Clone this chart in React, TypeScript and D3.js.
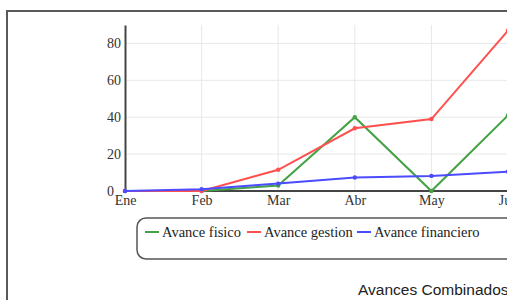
import * as d3 from "d3";
import React, { useEffect, useRef } from "react";

const months = ["Ene", "Feb", "Mar", "Abr", "May", "Jun"];
const fisico = [0, 0, 3, 40, 0, 41];
const gestion = [0, 0, 11.5, 34, 39, 87];
const financiero = [0, 1, 4, 7.3, 8.2, 10.5];
const yTicks = [0, 20, 40, 60, 80];

const seriesNames = ["Avance fisico", "Avance gestion", "Avance financiero"];
const seriesColors = ["#44a244", "#ff5050", "#4b4bff"];

const App = () => {
  const ref = useRef<SVGSVGElement | null>(null);

  useEffect(() => {
    const svg = d3.select(ref.current);
    svg.selectAll("*").remove();

    const width = 507;
    const height = 300;
    const margin = { top: 25, left: 125, bottom: 109 };

    svg.attr("width", width).attr("height", height);

    // outer frame
    svg
      .append("rect")
      .attr("x", 7)
      .attr("y", 11)
      .attr("width", 700)
      .attr("height", 400)
      .attr("fill", "#fff")
      .attr("stroke", "#595959")
      .attr("stroke-width", 2);

    const x = d3.scalePoint<string>().domain(months).range([margin.left, 508]);
    const y = d3
      .scaleLinear()
      .domain([0, 90])
      .range([height - margin.bottom, margin.top]);

    const g = svg.append("g");

    // grid
    g.append("g")
      .selectAll("line")
      .data(yTicks.slice(1))
      .enter()
      .append("line")
      .attr("x1", margin.left)
      .attr("x2", width + 10)
      .attr("y1", (d) => y(d))
      .attr("y2", (d) => y(d))
      .attr("stroke", "#e8e8e8");

    g.append("g")
      .selectAll("line")
      .data(months.slice(1))
      .enter()
      .append("line")
      .attr("x1", (d) => x(d)!)
      .attr("x2", (d) => x(d)!)
      .attr("y1", y(90))
      .attr("y2", y(0))
      .attr("stroke", "#e8e8e8");

    // axes
    const yAxis = g
      .append("g")
      .attr("transform", `translate(${margin.left},0)`)
      .call(d3.axisLeft(y).tickValues(yTicks).tickSize(0));
    yAxis.select(".domain").attr("stroke", "#444").attr("stroke-width", 2);
    yAxis
      .selectAll("text")
      .attr("text-anchor", "start")
      .attr("x", -18)
      .attr("font-family", "'Liberation Serif', serif")
      .attr("font-size", 14)
      .attr("fill", "#333");

    const xAxis = g
      .append("g")
      .attr("transform", `translate(0,${y(0)})`)
      .call(d3.axisBottom(x).tickSize(0).tickPadding(4));
    xAxis
      .select(".domain")
      .attr("d", `M${margin.left},0H${width + 10}`)
      .attr("stroke", "#444")
      .attr("stroke-width", 2);
    xAxis
      .selectAll("text")
      .attr("font-family", "'Liberation Serif', serif")
      .attr("font-size", 14)
      .attr("fill", "#333");

    // lines
    const allSeries = [fisico, gestion, financiero];
    const line = d3
      .line<number>()
      .x((_, i) => x(months[i])!)
      .y((d) => y(d));

    allSeries.forEach((vals, k) => {
      g.append("path")
        .datum(vals)
        .attr("d", line)
        .attr("fill", "none")
        .attr("stroke", seriesColors[k])
        .attr("stroke-width", 2);
      g.append("g")
        .selectAll("circle")
        .data(vals)
        .enter()
        .append("circle")
        .attr("cx", (_, i) => x(months[i])!)
        .attr("cy", (d) => y(d))
        .attr("r", 2.2)
        .attr("fill", seriesColors[k]);
    });

    // legend
    const legend = svg.append("g");
    legend
      .append("rect")
      .attr("x", 137)
      .attr("y", 218)
      .attr("width", 500)
      .attr("height", 41)
      .attr("rx", 9)
      .attr("fill", "none")
      .attr("stroke", "#555")
      .attr("stroke-width", 1.5);

    const legendX = [145, 247, 357];
    seriesNames.forEach((name, k) => {
      legend
        .append("line")
        .attr("x1", legendX[k])
        .attr("x2", legendX[k] + 14)
        .attr("y1", 232)
        .attr("y2", 232)
        .attr("stroke", seriesColors[k])
        .attr("stroke-width", 2);
      legend
        .append("text")
        .attr("x", legendX[k] + 17)
        .attr("y", 237)
        .attr("font-family", "'Liberation Serif', serif")
        .attr("font-size", 14.5)
        .attr("fill", "#222")
        .text(name);
    });

    svg
      .append("text")
      .attr("x", 358)
      .attr("y", 295)
      .attr("font-family", "'Liberation Sans', Arial, sans-serif")
      .attr("font-size", 15.5)
      .attr("fill", "#222")
      .text("Avances Combinados");
  }, []);

  return (
    <div style={{ position: "absolute", left: 0, top: 0 }}>
      <svg ref={ref} style={{ display: "block" }} />
    </div>
  );
};

export default App;
